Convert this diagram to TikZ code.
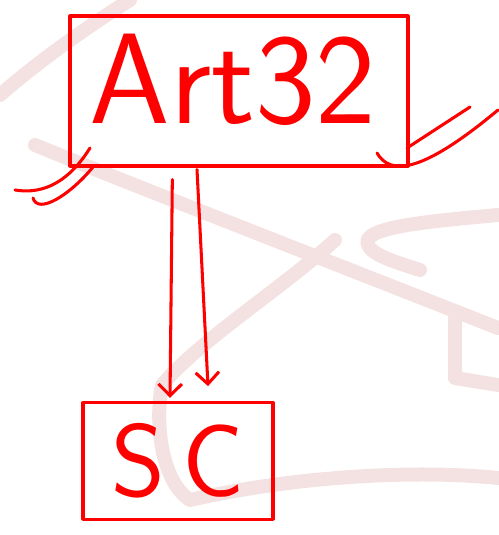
\documentclass[tikz,border=0pt]{standalone}
\usetikzlibrary{arrows.meta}
\definecolor{pen}{RGB}{255,0,0}
\definecolor{wash}{RGB}{244,226,226}
\tikzset{
  ink/.style={draw=pen, line width=2.6pt, line cap=round, line join=round},
  bigbox/.style={ink, rectangle, inner sep=0pt},
  bigtxt/.style={text=pen, font=\sffamily\fontsize{110}{110}\selectfont, inner sep=0pt},
  smalltxt/.style={text=pen, font=\sffamily\fontsize{88}{88}\selectfont},
  arr/.style={ink, -{Straight Barb[length=10pt, width=20pt, line width=2.6pt]}},
  bgband/.style={draw=wash, line width=0.42cm, line cap=round, line join=round}
}
\begin{document}
\begin{tikzpicture}[x=0.03cm, y=-0.03cm]
    \useasboundingbox (0,0) rectangle (498,535);
    % faint shapes behind the sketch
    \draw[bgband] (0,95) .. controls (40,60) and (90,25) .. (130,0);
    \draw[bgband] (35,145) .. controls (120,180) and (300,250) .. (498,328);
    \draw[bgband] (498,215) .. controls (420,222) and (360,228) .. (368,245) .. controls (372,255) and (395,262) .. (420,270);
    \draw[bgband] (335,240) .. controls (280,290) and (200,340) .. (162,385) .. controls (155,420) and (160,480) .. (190,500) .. controls (300,475) and (420,470) .. (498,478);
    \draw[bgband] (455,318) -- (455,378) -- (498,385);
    % boxes
    \node[bigbox, minimum width=10.14cm, minimum height=4.5cm] (art) at (239,91) {};
    \node[bigtxt] (artlabel) at (233,80) {Art32};
    \node[bigbox, minimum width=5.7cm, minimum height=3.5cm, smalltxt] (sc) at (178,461) {S\hspace{0.5cm}C};
    % arrows down
    \draw[arr] ([xshift=-2.0cm, yshift=-0.36cm]art.south) -- ([xshift=-0.24cm, yshift=0.1cm]sc.north);
    \draw[arr] ([xshift=-1.26cm, yshift=-0.06cm]art.south) -- ([xshift=0.9cm, yshift=0.45cm]sc.north);
    % corner strokes
    \draw[ink] (15,190) .. controls (45,195) and (70,180) .. (90,148);
    \draw[ink] (33,198) .. controls (38,215) and (70,195) .. (93,167);
    \draw[ink] (377,153) .. controls (390,175) and (420,175) .. (498,110);
    \draw[ink] (407,148) -- (470,107);
\end{tikzpicture}
\end{document}
